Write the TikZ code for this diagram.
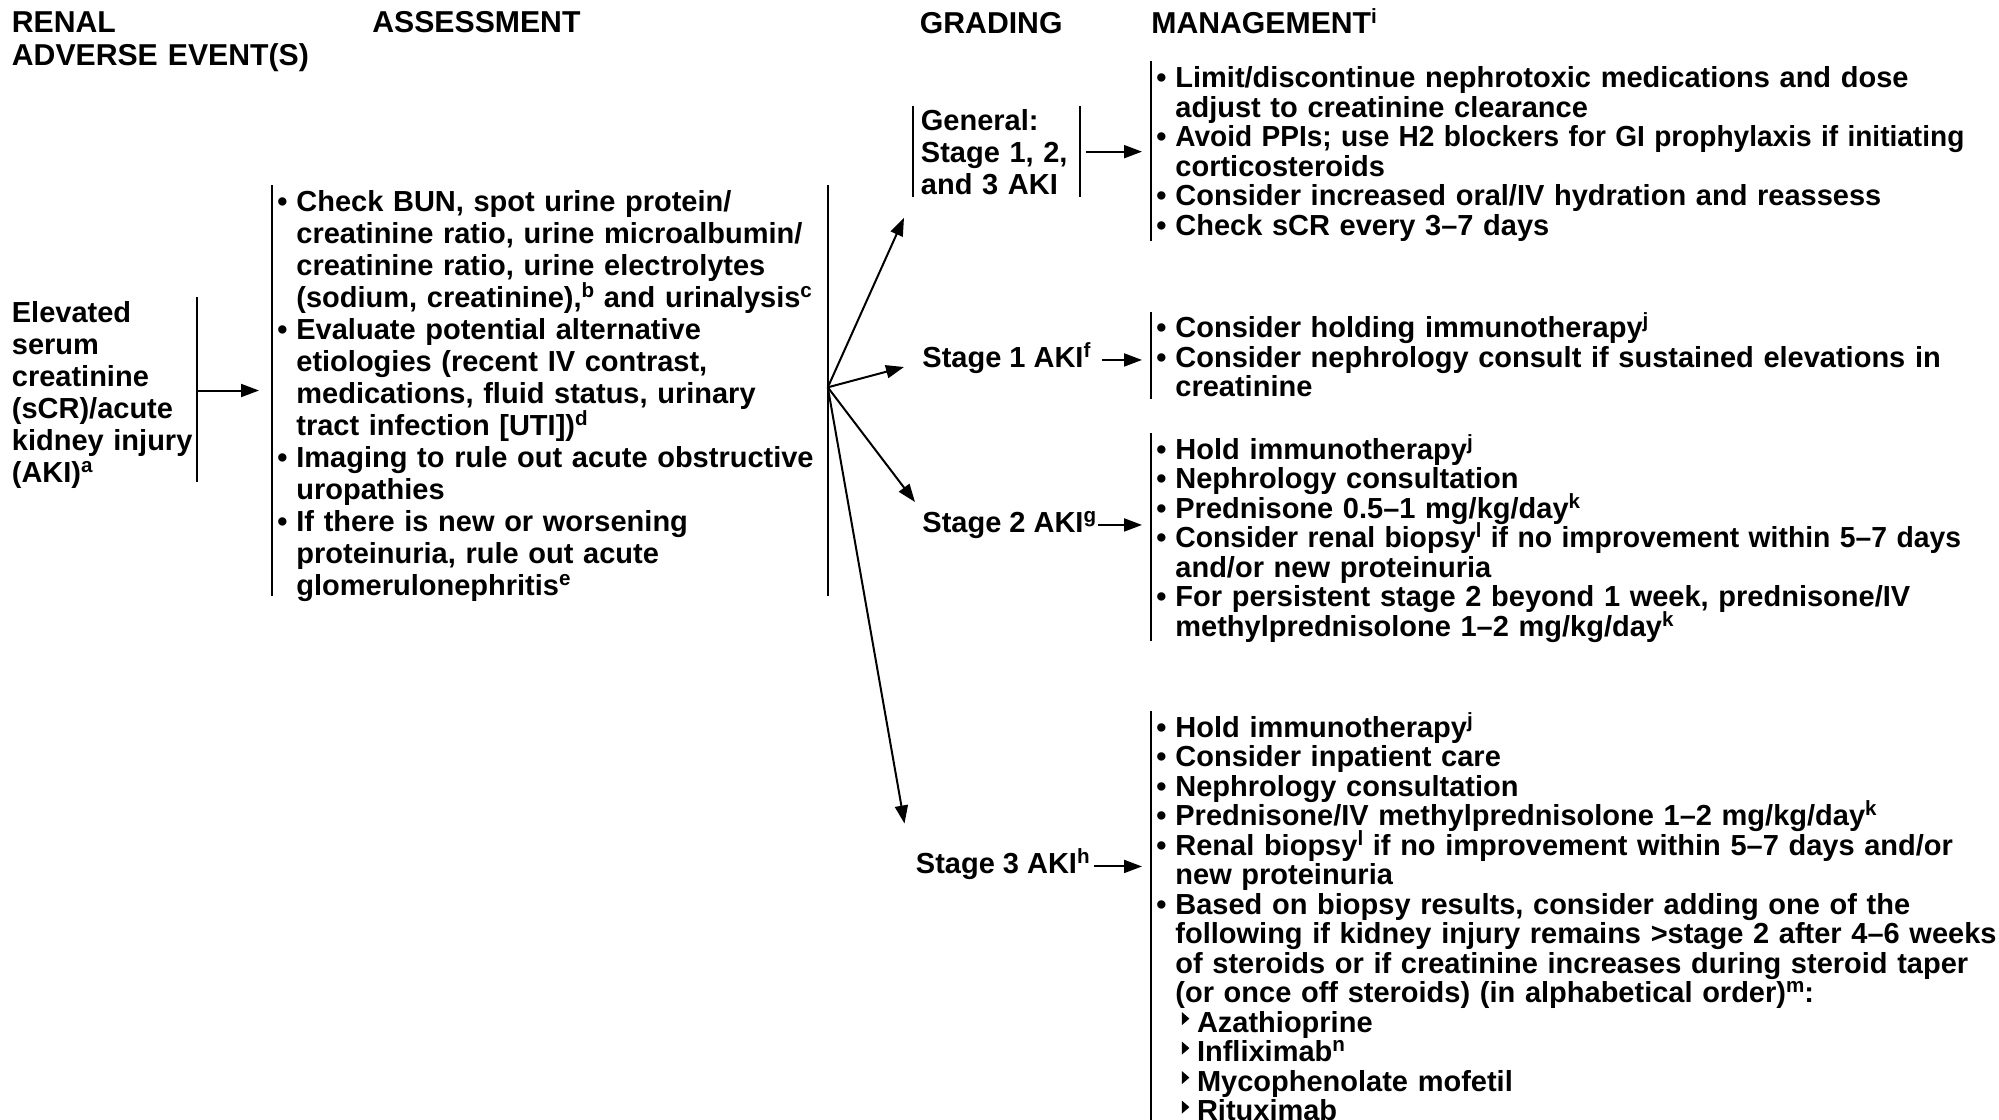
\documentclass[tikz,border=0pt]{standalone}
\usepackage{fontspec}
\usepackage{graphicx}
\setmainfont{Liberation Sans}
\usetikzlibrary{arrows.meta,calc}

% hanging bullet items (continuation lines use \newline so they keep the indent)
\newlength\bulind
\setlength\bulind{12pt}
\newcommand\itmhead{\hangindent=\bulind\hangafter=1\noindent\makebox[\bulind][l]{\hspace{2.5pt}\textbullet}}
\newcommand\itm{\par\itmhead}
% superscript note letters (no effect on line spacing)
\newcommand\sups[1]{\raisebox{4.8pt}[0pt][0pt]{\fontsize{10.3pt}{10.3pt}\selectfont #1}}
% small right-pointing triangle for sub-items
\newcommand\tri{\hspace*{3.2pt}\tikz[x=1pt,y=1pt,baseline=0pt]\fill (0,3.4)--(0,10)--(3.8,6.7)--cycle;\hspace*{3.8pt}}
% slightly condensed line
\newcommand\cond[2]{\scalebox{#1}[1]{#2}}

\begin{document}
\begin{tikzpicture}[x=0.5pt,y=-0.5pt,
  every node/.style={inner sep=0pt, anchor=base west,
    font=\bfseries\fontsize{14.5pt}{16pt}\selectfont},
  head/.style={font=\bfseries\fontsize{15.1pt}{16.5pt}\selectfont},
  blk/.style={text width=#1, align=left},
  mgmt/.style={text width=440pt, align=left,
    font=\bfseries\fontsize{14.5pt}{14.75pt}\selectfont},
  vbar/.style={line width=1pt},
  arr/.style={line width=1pt, -{Triangle[length=9pt,width=6.5pt]}},
]
\fill[white] (0,0) rectangle (1999,1120);
\useasboundingbox (0,0) rectangle (1999,1120);

% column headings
\node[head, blk=170pt] (hEvent) at (11.5,32) {RENAL\\ADVERSE EVENT(S)};
\node[head] (hAssess) at (372,32) {ASSESSMENT};
\node[head] (hGrade) at (919.5,33) {GRADING};
\node[head] (hMgmt) at (1151,33) {MANAGEMENT\sups{i}};

% adverse event
\node[blk=92.25pt] (n0) at (11.5,322) {Elevated\\serum\\creatinine\\(sCR)/acute\\kidney~injury\\(AKI)\sups{a}};

% assessment
\node[blk=277.5pt] (a) at (272,211) {\itmhead Check BUN, spot urine protein/\newline creatinine ratio, urine microalbumin/\newline creatinine ratio, urine electrolytes\newline (sodium, creatinine),\sups{b} and urinalysis\sups{c}\itm Evaluate potential alternative\newline etiologies (recent IV contrast,\newline medications, fluid status, urinary\newline tract infection [UTI])\sups{d}\itm Imaging to rule out acute obstructive\newline uropathies\itm If there is new or worsening\newline proteinuria, rule out acute\newline glomerulonephritis\sups{e}\par};

% grading
\node[blk=75.5pt, inner xsep=3.75pt] (g0) at (913,130) {General:\\Stage 1, 2,\\and 3 AKI};
\node (g1) at (922,367) {Stage 1 AKI\sups{f}};
\node (g2) at (922,532) {Stage 2 AKI\sups{g}};
\node (g3) at (915.5,873.5) {Stage 3 AKI\sups{h}};

% management
\node[mgmt] (m0) at (1151,87.5) {\itmhead Limit/discontinue nephrotoxic medications and dose\newline adjust to creatinine clearance\itm \cond{0.967}{Avoid PPIs; use H2 blockers for GI prophylaxis if initiating}\newline corticosteroids\itm Consider increased oral/IV hydration and reassess\itm Check sCR every 3–7 days\par};
\node[mgmt] (m1) at (1151,337.5) {\itmhead Consider holding immunotherapy\sups{j}\itm Consider nephrology consult if sustained elevations in\newline creatinine\par};
\node[mgmt] (m2) at (1151,459) {\itmhead Hold immunotherapy\sups{j}\itm Nephrology consultation\itm Prednisone 0.5–1 mg/kg/day\sups{k}\itm \cond{0.976}{Consider renal biopsy\sups{l} if no improvement within 5–7 days}\newline and/or new proteinuria\itm For persistent stage 2 beyond 1 week, prednisone/IV\newline methylprednisolone 1–2 mg/kg/day\sups{k}\par};
\node[mgmt] (m3) at (1151,737) {\itmhead Hold immunotherapy\sups{j}\itm Consider inpatient care\itm Nephrology consultation\itm Prednisone/IV methylprednisolone 1–2 mg/kg/day\sups{k}\itm Renal biopsy\sups{l} if no improvement within 5–7 days and/or\newline new proteinuria\itm Based on biopsy results, consider adding one of the\newline following if kidney injury remains >stage 2 after 4–6 weeks\newline of steroids or if creatinine increases during steroid taper\newline (or once off steroids) (in alphabetical order)\sups{m}:\newline\tri Azathioprine\newline\tri Infliximab\sups{n}\newline\tri Mycophenolate mofetil\newline\tri Rituximab\par};

% side rules of the text blocks
\draw[vbar] ([yshift=12.5pt]n0.base east) -- ([yshift=3pt]n0.south east);
\draw[vbar] ([yshift=13pt]a.base west) -- ([yshift=3pt]a.south west);
\draw[vbar] ([yshift=13pt]a.base east) -- ([yshift=3pt]a.south east);
\draw[vbar] ([yshift=12pt]g0.base west) -- ([yshift=-1pt]g0.south west);
\draw[vbar] ([yshift=12pt]g0.base east) -- ([yshift=-1pt]g0.south east);
\draw[vbar] ([yshift=13.25pt]m0.base west) -- (m0.south west);
\draw[vbar] ([yshift=12.75pt]m1.base west) -- ([yshift=-1pt]m1.south west);
\draw[vbar] ([yshift=13pt]m2.base west) -- ([yshift=1pt]m2.south west);
\draw[vbar] ([yshift=13pt]m3.base west) -- ([yshift=-4pt]m3.south west);

% connectors
\coordinate (n0out) at ([yshift=2pt]n0.east);
\draw[arr, shorten >=6.5pt] (n0out) -- (n0out -| a.west);

\coordinate (fan) at ($(a.north east)!0.48!(a.south east)$);
\draw[arr] (fan) -- ($(g0.south west)+(-9,23)$);
\draw[arr] (fan) -- ($(g1.base west)+(-18,0)$);
\draw[arr] (fan) -- ($(g2.base west)+(-7,-30)$);
\draw[arr] (fan) -- ($(g3.base west)+(-11,-50)$);

\draw[arr, shorten <=3pt, shorten >=4.5pt] (g0.east) -- (g0.east -| m0.west);
\draw[arr, shorten <=5.5pt, shorten >=4.5pt] (g1.east) -- (g1.east -| m1.west);
\draw[arr, shorten <=0.5pt, shorten >=4.5pt] (g2.east) -- (g2.east -| m2.west);
\draw[arr, shorten <=2pt, shorten >=4.5pt] (g3.east) -- (g3.east -| m3.west);
\end{tikzpicture}
\end{document}
